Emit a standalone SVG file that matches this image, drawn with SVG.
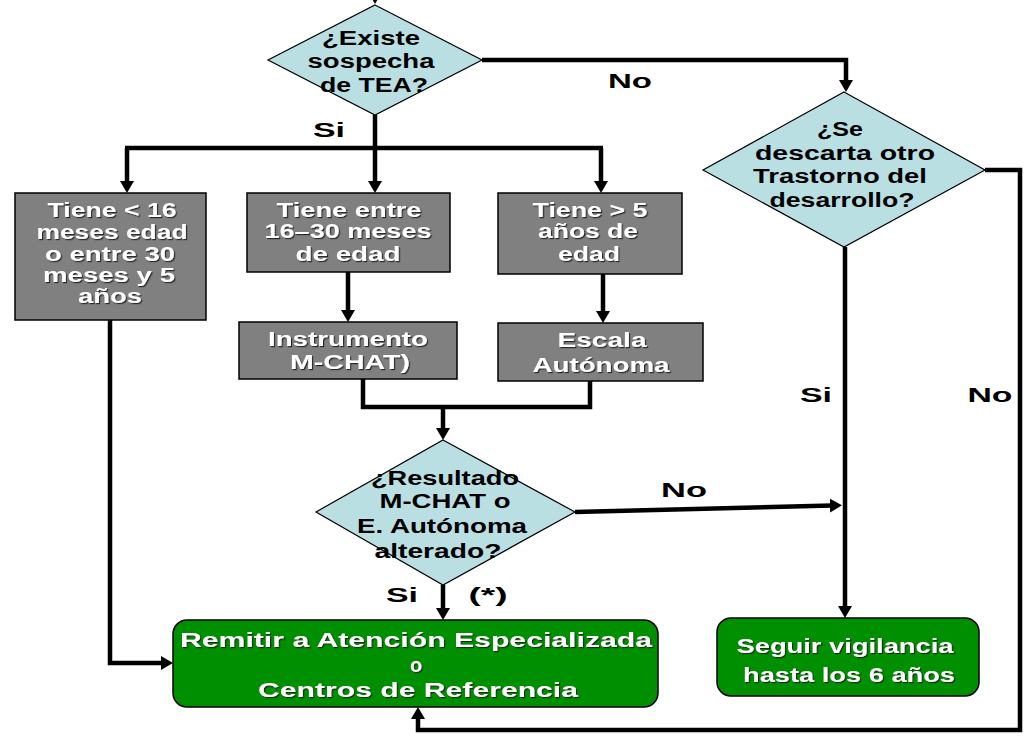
<svg xmlns="http://www.w3.org/2000/svg" width="1028" height="739" viewBox="0 0 1028 739">
<defs>
<marker id="ah" markerUnits="userSpaceOnUse" viewBox="0 0 12 14" markerWidth="12" markerHeight="14" refX="2" refY="7" orient="auto">
<path d="M0,0 L12,7 L0,14 z" fill="#000"/>
</marker>
<filter id="sh" x="-10%" y="-30%" width="120%" height="160%">
<feDropShadow dx="1.2" dy="1.2" stdDeviation="0.4" flood-color="#1a1a1a" flood-opacity="0.9"/>
</filter>
</defs>
<style>
.dia{fill:#b9dfe2;stroke:#000;stroke-width:1.2}
.box{fill:#808080;stroke:#000;stroke-width:1.5}
.grn{fill:#008f00;stroke:#000;stroke-width:1.5}
text{font-family:"Liberation Sans",Arial,sans-serif;font-weight:bold;font-size:20px;text-anchor:middle}
.dk{fill:#000}
.wt{fill:#fff;filter:url(#sh)}
.lbl{fill:#000;font-size:21px}
.con{fill:none;stroke:#000;stroke-width:4.5}
.ar{marker-end:url(#ah)}
</style>
<rect width="1028" height="739" fill="#fff"/>

<g id="connectors">
<path class="con ar" d="M375,-14 L375,-6"/>
<path class="con ar" d="M482,60 L846,60 L846,82"/>
<path class="con" d="M375,115 L375,148"/>
<path class="con" d="M125,148 L603,148"/>
<path class="con ar" d="M127,148 L127,183"/>
<path class="con ar" d="M375,148 L375,183"/>
<path class="con ar" d="M601,148 L601,183"/>
<path class="con ar" d="M348,272 L348,312"/>
<path class="con ar" d="M603,274 L603,313"/>
<path class="con" d="M363,379 L363,407 L590,407 L590,381"/>
<path class="con ar" d="M443,407 L443,430"/>
<path class="con ar" d="M575,512 L832,505.5"/>
<path class="con ar" d="M443,585 L443,610"/>
<path class="con ar" d="M845,247 L845,608"/>
<path class="con ar" d="M110,320 L110,663 L163,663"/>
<path class="con ar" d="M985,170 L1020,170 L1020,730 L418,730 L418,717"/>
</g>

<g id="n-existe">
<polygon class="dia" points="375,5 482,60 375,115 268,60"/>
<text class="dk" x="371" y="45" textLength="98" lengthAdjust="spacingAndGlyphs">¿Existe</text>
<text class="dk" x="371" y="68" textLength="127" lengthAdjust="spacingAndGlyphs">sospecha</text>
<text class="dk" x="374" y="92" textLength="108" lengthAdjust="spacingAndGlyphs">de TEA?</text>
</g>

<g id="n-descarta">
<polygon class="dia" points="844,92 985,170 844,247 703,170"/>
<text class="dk" x="840" y="136" textLength="46" lengthAdjust="spacingAndGlyphs">¿Se</text>
<text class="dk" x="845" y="160" textLength="180" lengthAdjust="spacingAndGlyphs">descarta otro</text>
<text class="dk" x="840" y="183" textLength="174" lengthAdjust="spacingAndGlyphs">Trastorno del</text>
<text class="dk" x="842" y="207" textLength="145" lengthAdjust="spacingAndGlyphs">desarrollo?</text>
</g>

<g id="n-menor16">
<rect class="box" x="15" y="193" width="191" height="127"/>
<text class="wt" x="112" y="217" textLength="129" lengthAdjust="spacingAndGlyphs">Tiene &lt; 16</text>
<text class="wt" x="112" y="239" textLength="151" lengthAdjust="spacingAndGlyphs">meses edad</text>
<text class="wt" x="110" y="261" textLength="130" lengthAdjust="spacingAndGlyphs">o entre 30</text>
<text class="wt" x="109" y="282" textLength="132" lengthAdjust="spacingAndGlyphs">meses y 5</text>
<text class="wt" x="110" y="303" textLength="64" lengthAdjust="spacingAndGlyphs">años</text>
</g>

<g id="n-entre16-30">
<rect class="box" x="247" y="193" width="203" height="79"/>
<text class="wt" x="349" y="217" textLength="145" lengthAdjust="spacingAndGlyphs">Tiene entre</text>
<text class="wt" x="348" y="238" textLength="167" lengthAdjust="spacingAndGlyphs">16–30 meses</text>
<text class="wt" x="348" y="261" textLength="105" lengthAdjust="spacingAndGlyphs">de edad</text>
</g>

<g id="n-mayor5">
<rect class="box" x="498" y="193" width="184" height="81"/>
<text class="wt" x="590" y="217" textLength="115" lengthAdjust="spacingAndGlyphs">Tiene &gt; 5</text>
<text class="wt" x="588" y="238" textLength="100" lengthAdjust="spacingAndGlyphs">años de</text>
<text class="wt" x="589" y="261" textLength="62" lengthAdjust="spacingAndGlyphs">edad</text>
</g>

<g id="n-mchat">
<rect class="box" x="239" y="322" width="218" height="57"/>
<text class="wt" x="348" y="346" textLength="160" lengthAdjust="spacingAndGlyphs">Instrumento</text>
<text class="wt" x="350" y="369" textLength="120" lengthAdjust="spacingAndGlyphs">M-CHAT)</text>
</g>

<g id="n-escala">
<rect class="box" x="498" y="323" width="205" height="58"/>
<text class="wt" x="602" y="347" textLength="89" lengthAdjust="spacingAndGlyphs">Escala</text>
<text class="wt" x="601" y="372" textLength="137" lengthAdjust="spacingAndGlyphs">Autónoma</text>
</g>

<g id="n-resultado">
<polygon class="dia" points="443,440 575,512 443,585 316,512"/>
<text class="dk" x="445" y="485" textLength="148" lengthAdjust="spacingAndGlyphs">¿Resultado</text>
<text class="dk" x="445" y="508" textLength="131" lengthAdjust="spacingAndGlyphs">M-CHAT o</text>
<text class="dk" x="442" y="533" textLength="170" lengthAdjust="spacingAndGlyphs">E. Autónoma</text>
<text class="dk" x="438" y="558" textLength="127" lengthAdjust="spacingAndGlyphs">alterado?</text>
</g>

<g id="n-remitir">
<rect class="grn" x="173" y="620" width="485" height="87" rx="14" ry="14"/>
<text class="wt" x="416" y="647" textLength="472" lengthAdjust="spacingAndGlyphs">Remitir a Atención Especializada</text>
<text class="wt" x="416" y="672">o</text>
<text class="wt" x="418" y="697" textLength="320" lengthAdjust="spacingAndGlyphs">Centros de Referencia</text>
</g>

<g id="n-seguir">
<rect class="grn" x="717" y="618" width="262" height="78" rx="14" ry="14"/>
<text class="wt" x="845" y="653" textLength="217" lengthAdjust="spacingAndGlyphs">Seguir vigilancia</text>
<text class="wt" x="849" y="682" textLength="212" lengthAdjust="spacingAndGlyphs">hasta los 6 años</text>
</g>

<g id="labels">
<text class="lbl" x="630" y="88" textLength="44" lengthAdjust="spacingAndGlyphs">No</text>
<text class="lbl" x="329" y="137" textLength="32" lengthAdjust="spacingAndGlyphs">Si</text>
<text class="lbl" x="816" y="402" textLength="32" lengthAdjust="spacingAndGlyphs">Si</text>
<text class="lbl" x="990" y="402" textLength="45" lengthAdjust="spacingAndGlyphs">No</text>
<text class="lbl" x="684" y="497" textLength="46" lengthAdjust="spacingAndGlyphs">No</text>
<text class="lbl" x="402" y="602" textLength="32" lengthAdjust="spacingAndGlyphs">Si</text>
<text class="lbl" x="488" y="602" textLength="39" lengthAdjust="spacingAndGlyphs">(*)</text>
</g>
</svg>
